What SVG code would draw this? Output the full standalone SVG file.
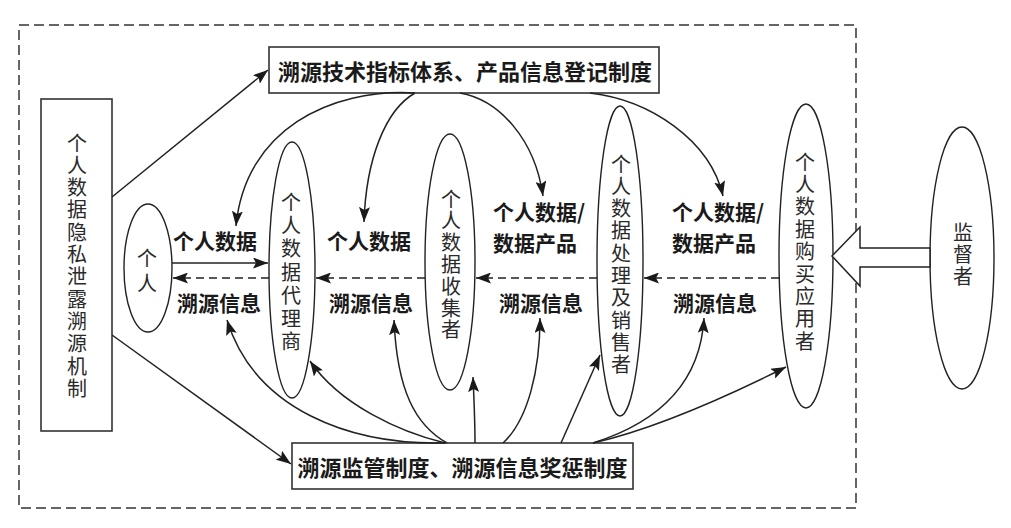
<svg xmlns="http://www.w3.org/2000/svg" width="1011" height="528" viewBox="0 0 1011 528">
<style>
.frame{fill:none;stroke:#333;stroke-width:1.5;stroke-dasharray:10 5}
.box{fill:#fff;stroke:#333;stroke-width:1.6}
.ell{fill:#fff;stroke:#222;stroke-width:1.4}
.ln{fill:none;stroke:#222;stroke-width:1.5;marker-end:url(#ah)}
.dl{fill:none;stroke:#222;stroke-width:1.4;stroke-dasharray:8 5;marker-end:url(#ah)}
.vt{font-family:"Noto Sans CJK SC","Noto Sans",sans-serif;font-size:20px;fill:#2a2a2a;text-anchor:middle;dominant-baseline:central;writing-mode:vertical-rl;text-orientation:upright}
.lb{font-family:"Noto Sans CJK SC","Noto Sans",sans-serif;font-size:21px;font-weight:700;fill:#1a1a1a;dominant-baseline:central}
.bt{font-family:"Noto Sans CJK SC","Noto Sans",sans-serif;font-size:22px;font-weight:700;fill:#1a1a1a;text-anchor:middle;dominant-baseline:central}
</style>
<defs>
<marker id="ah" markerUnits="userSpaceOnUse" markerWidth="15" markerHeight="11" refX="15" refY="5.5" orient="auto">
<path d="M0,0 L15,5.5 L0,11 L3,5.5 z" fill="#1a1a1a"/>
</marker>
</defs>
<rect class="frame" x="19" y="25" width="837" height="483"/>

<g id="mechanism">
<rect class="box" x="41" y="99" width="71" height="332"/>
<text class="vt" x="77" y="266.8" style="letter-spacing:2.3px">个人数据隐私泄露溯源机制</text>
</g>

<g id="tech-system">
<rect class="box" x="269" y="47" width="390" height="46"/>
<text class="bt" x="465" y="70">溯源技术指标体系、产品信息登记制度</text>
</g>

<g id="supervision-system">
<rect class="box" x="292" y="443" width="341" height="46"/>
<text class="bt" x="462.5" y="466">溯源监管制度、溯源信息奖惩制度</text>
</g>

<g id="individual">
<ellipse class="ell" cx="148" cy="268" rx="24" ry="64"/>
<text class="vt" x="147" y="273" style="letter-spacing:5px">个人</text>
</g>

<g id="agent">
<ellipse class="ell" cx="292" cy="270" rx="23" ry="128"/>
<text class="vt" x="291" y="273.7" style="letter-spacing:3.2px">个人数据代理商</text>
</g>

<g id="collector">
<ellipse class="ell" cx="450" cy="262" rx="25" ry="128"/>
<text class="vt" x="451" y="265.3" style="letter-spacing:1.8px">个人数据收集者</text>
</g>

<g id="processor">
<ellipse class="ell" cx="620" cy="261" rx="23" ry="155"/>
<text class="vt" x="621" y="265.5" style="letter-spacing:2.3px">个人数据处理及销售者</text>
</g>

<g id="buyer">
<ellipse class="ell" cx="806" cy="256" rx="27" ry="152"/>
<text class="vt" x="805" y="252.8" style="letter-spacing:2.4px">个人数据购买应用者</text>
</g>

<g id="supervisor">
<ellipse class="ell" cx="962" cy="258" rx="32" ry="131"/>
<text class="vt" x="963" y="255" style="letter-spacing:2px">监督者</text>
</g>

<g id="connectors">
<path class="ln" d="M112,197 L268,70"/>
<path class="ln" d="M112,335 L291,464"/>
<path class="ln" d="M415,93 C330,88 245,130 236,226"/>
<path class="ln" d="M415,93 C385,110 366,160 364,222"/>
<path class="ln" d="M460,93 C500,100 535,140 543,196"/>
<path class="ln" d="M590,93 C650,100 710,140 723,196"/>
<path class="ln" d="M172,263 L268,263"/>
<path class="dl" d="M269,278 L173,278"/>
<path class="dl" d="M425,278 L316,278"/>
<path class="dl" d="M597,278 L476,278"/>
<path class="dl" d="M779,278 L644,278"/>
<path class="ln" d="M445,443 C350,445 255,410 227,320"/>
<path class="ln" d="M445,443 C400,432 340,405 310,361"/>
<path class="ln" d="M447,443 C415,425 397,390 394,320"/>
<path class="ln" d="M475,443 C475,420 474,400 473,377"/>
<path class="ln" d="M503,443 C528,420 540,370 540,318"/>
<path class="ln" d="M561,443 L600,355"/>
<path class="ln" d="M593,443 C650,425 700,390 704,318"/>
<path class="ln" d="M593,443 C650,430 720,400 786,367"/>
<polygon points="832,256 860,227 860,248 930,248 930,267 860,267 860,286" fill="#fff" stroke="#222" stroke-width="1.5" stroke-linejoin="miter"/>
<text class="lb" x="173" y="240">个人数据</text>
<text class="lb" x="177" y="302">溯源信息</text>
<text class="lb" x="327" y="240">个人数据</text>
<text class="lb" x="329" y="302">溯源信息</text>
<text class="lb"><tspan x="493" y="211">个人数据/</tspan><tspan x="493" y="242">数据产品</tspan></text>
<text class="lb" x="499" y="302">溯源信息</text>
<text class="lb"><tspan x="672" y="211">个人数据/</tspan><tspan x="672" y="242">数据产品</tspan></text>
<text class="lb" x="673" y="302">溯源信息</text>
</g>
</svg>
